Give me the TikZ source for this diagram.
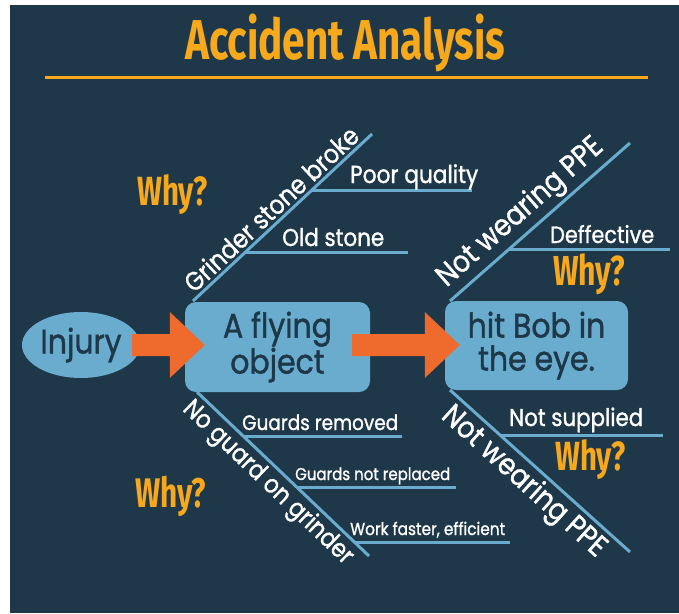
\documentclass[tikz,border=0pt]{standalone}
\usepackage{fontspec}
\setmainfont{Poppins}[FakeStretch=0.88, FakeBold=1.2]
\newfontfamily\condfont{Fira Sans}[FakeStretch=0.72]
\usetikzlibrary{calc,shapes.geometric}
\definecolor{bgc}{RGB}{30,55,73}
\definecolor{bluec}{RGB}{106,172,206}
\definecolor{orangec}{RGB}{238,107,45}
\definecolor{yellowc}{RGB}{247,168,27}
\newcommand{\blockarrow}[2]{%
  \fill[orangec] let \p1=(#1), \p2=(#2) in
   (\x1,\y1+11pt) -- (\x2-35pt,\y1+11pt) -- (\x2-35pt,\y1+33pt) -- (\x2,\y1)
   -- (\x2-35pt,\y1-33pt) -- (\x2-35pt,\y1-11pt) -- (\x1,\y1-11pt) -- cycle;}
\begin{document}
\begin{tikzpicture}[x=1pt,y=-1pt,
  bone/.style={draw=bluec, line width=3pt},
  twig/.style={draw=bluec, line width=3pt},
  lbl/.style={text=white, inner sep=0pt, anchor=base west},
  bonelbl/.style={text=white, inner sep=4pt, sloped},
  why/.style={text=yellowc, inner sep=0pt, anchor=base west, font=\condfont\bfseries},
  box/.style={fill=bluec, rounded corners=11pt, text=bgc, align=center, inner sep=0pt,
              font=\fontsize{34}{33}\selectfont},
]
\useasboundingbox (0,0) rectangle (679,613);
\fill[white] (0,0) rectangle (679,613);
\fill[bgc] (10,5) rectangle (679,613);

% title
\node[why] (title) at (185,59) {\resizebox{320pt}{!}{Accident Analysis}};
\draw[yellowc, line width=3pt] (45,77) -- (648,77);

% bones
\coordinate (ul0) at (193,301); \coordinate (ul1) at (372,134);
\coordinate (ur0) at (450,301); \coordinate (ur1) at (630,143);
\coordinate (ll0) at (197,392); \coordinate (ll1) at (369,556);
\coordinate (lr0) at (450,390); \coordinate (lr1) at (630,552);
\draw[bone] (ul0) -- (ul1);
\draw[bone] (ur0) -- (ur1);
\draw[bone] (ll0) -- (ll1);
\draw[bone] (lr0) -- (lr1);

% twigs
\coordinate (t1) at ($(ul0)!0.659!(ul1)$); \draw[twig] (t1) -- (t1 -| 472,0);
\coordinate (t2) at ($(ul0)!0.293!(ul1)$); \draw[twig] (t2) -- (t2 -| 408,0);
\coordinate (t3) at ($(ur0)!0.325!(ur1)$); \draw[twig] (t3) -- (t3 -| 670,0);
\coordinate (t4) at ($(ll0)!0.274!(ll1)$); \draw[twig] (t4) -- (t4 -| 402,0);
\coordinate (t5) at ($(ll0)!0.585!(ll1)$); \draw[twig] (t5) -- (t5 -| 456,0);
\coordinate (t6) at ($(ll0)!0.915!(ll1)$); \draw[twig] (t6) -- (t6 -| 510,0);
\coordinate (t7) at ($(lr0)!0.278!(lr1)$); \draw[twig] (t7) -- (t7 -| 663,0);

% nodes
\node[box, minimum width=185pt, minimum height=90pt] (b1) at (277.5,347) {A flying\\object};
\node[box, minimum width=183pt, minimum height=89pt] (b2) at (536.5,345.5) {hit Bob in\\the eye.};
\node[ellipse, fill=bluec, minimum width=118pt, minimum height=66pt, inner sep=0pt,
      text=bgc, font=\fontsize{34}{34}\selectfont] (inj) at (81,345) {Injury};

% block arrows
\blockarrow{$(inj.east)+(-8,0)$}{$(b1.west)+(20,0)$}
\blockarrow{$(b1.east)+(-18,-2)$}{$(b2.west)+(15,0)$}

% bone labels
\path (ul0) -- (ul1) node[bonelbl, pos=0.49, anchor=south] {\resizebox{228pt}{!}{Grinder stone broke}};
\path (ur0) -- (ur1) node[bonelbl, pos=0.465, anchor=south] {\resizebox{210pt}{!}{Not wearing PPE}};
\path (ll0) -- (ll1) node[bonelbl, pos=0.48, anchor=north] {\resizebox{225pt}{!}{No guard on grinder}};
\path (lr0) -- (lr1) node[bonelbl, pos=0.48, anchor=north] {\resizebox{210pt}{!}{Not wearing PPE}};

% twig labels
\node[lbl] (l1) at (350,183) {\resizebox{128pt}{!}{Poor quality}};
\node[lbl] (l2) at (282,246) {\resizebox{102pt}{!}{Old stone}};
\node[lbl] (l3) at (550,243) {\resizebox{104pt}{!}{Deffective}};
\node[lbl] (l4) at (509,426) {\resizebox{134pt}{!}{Not supplied}};
\node[lbl] (l5) at (242,430) {\resizebox{156pt}{!}{Guards removed}};
\node[lbl] (l6) at (295,480) {\resizebox{155pt}{!}{Guards not replaced}};
\node[lbl] (l7) at (350,535) {\resizebox{155pt}{!}{Work faster, efficient}};

% why labels
\node[why] (w1) at (137,205) {\resizebox{70pt}{!}{Why?}};
\node[why] (w2) at (553,285) {\resizebox{72pt}{!}{Why?}};
\node[why] (w3) at (135,507) {\resizebox{71pt}{!}{Why?}};
\node[why] (w4) at (555,470) {\resizebox{70pt}{!}{Why?}};
\end{tikzpicture}
\end{document}
